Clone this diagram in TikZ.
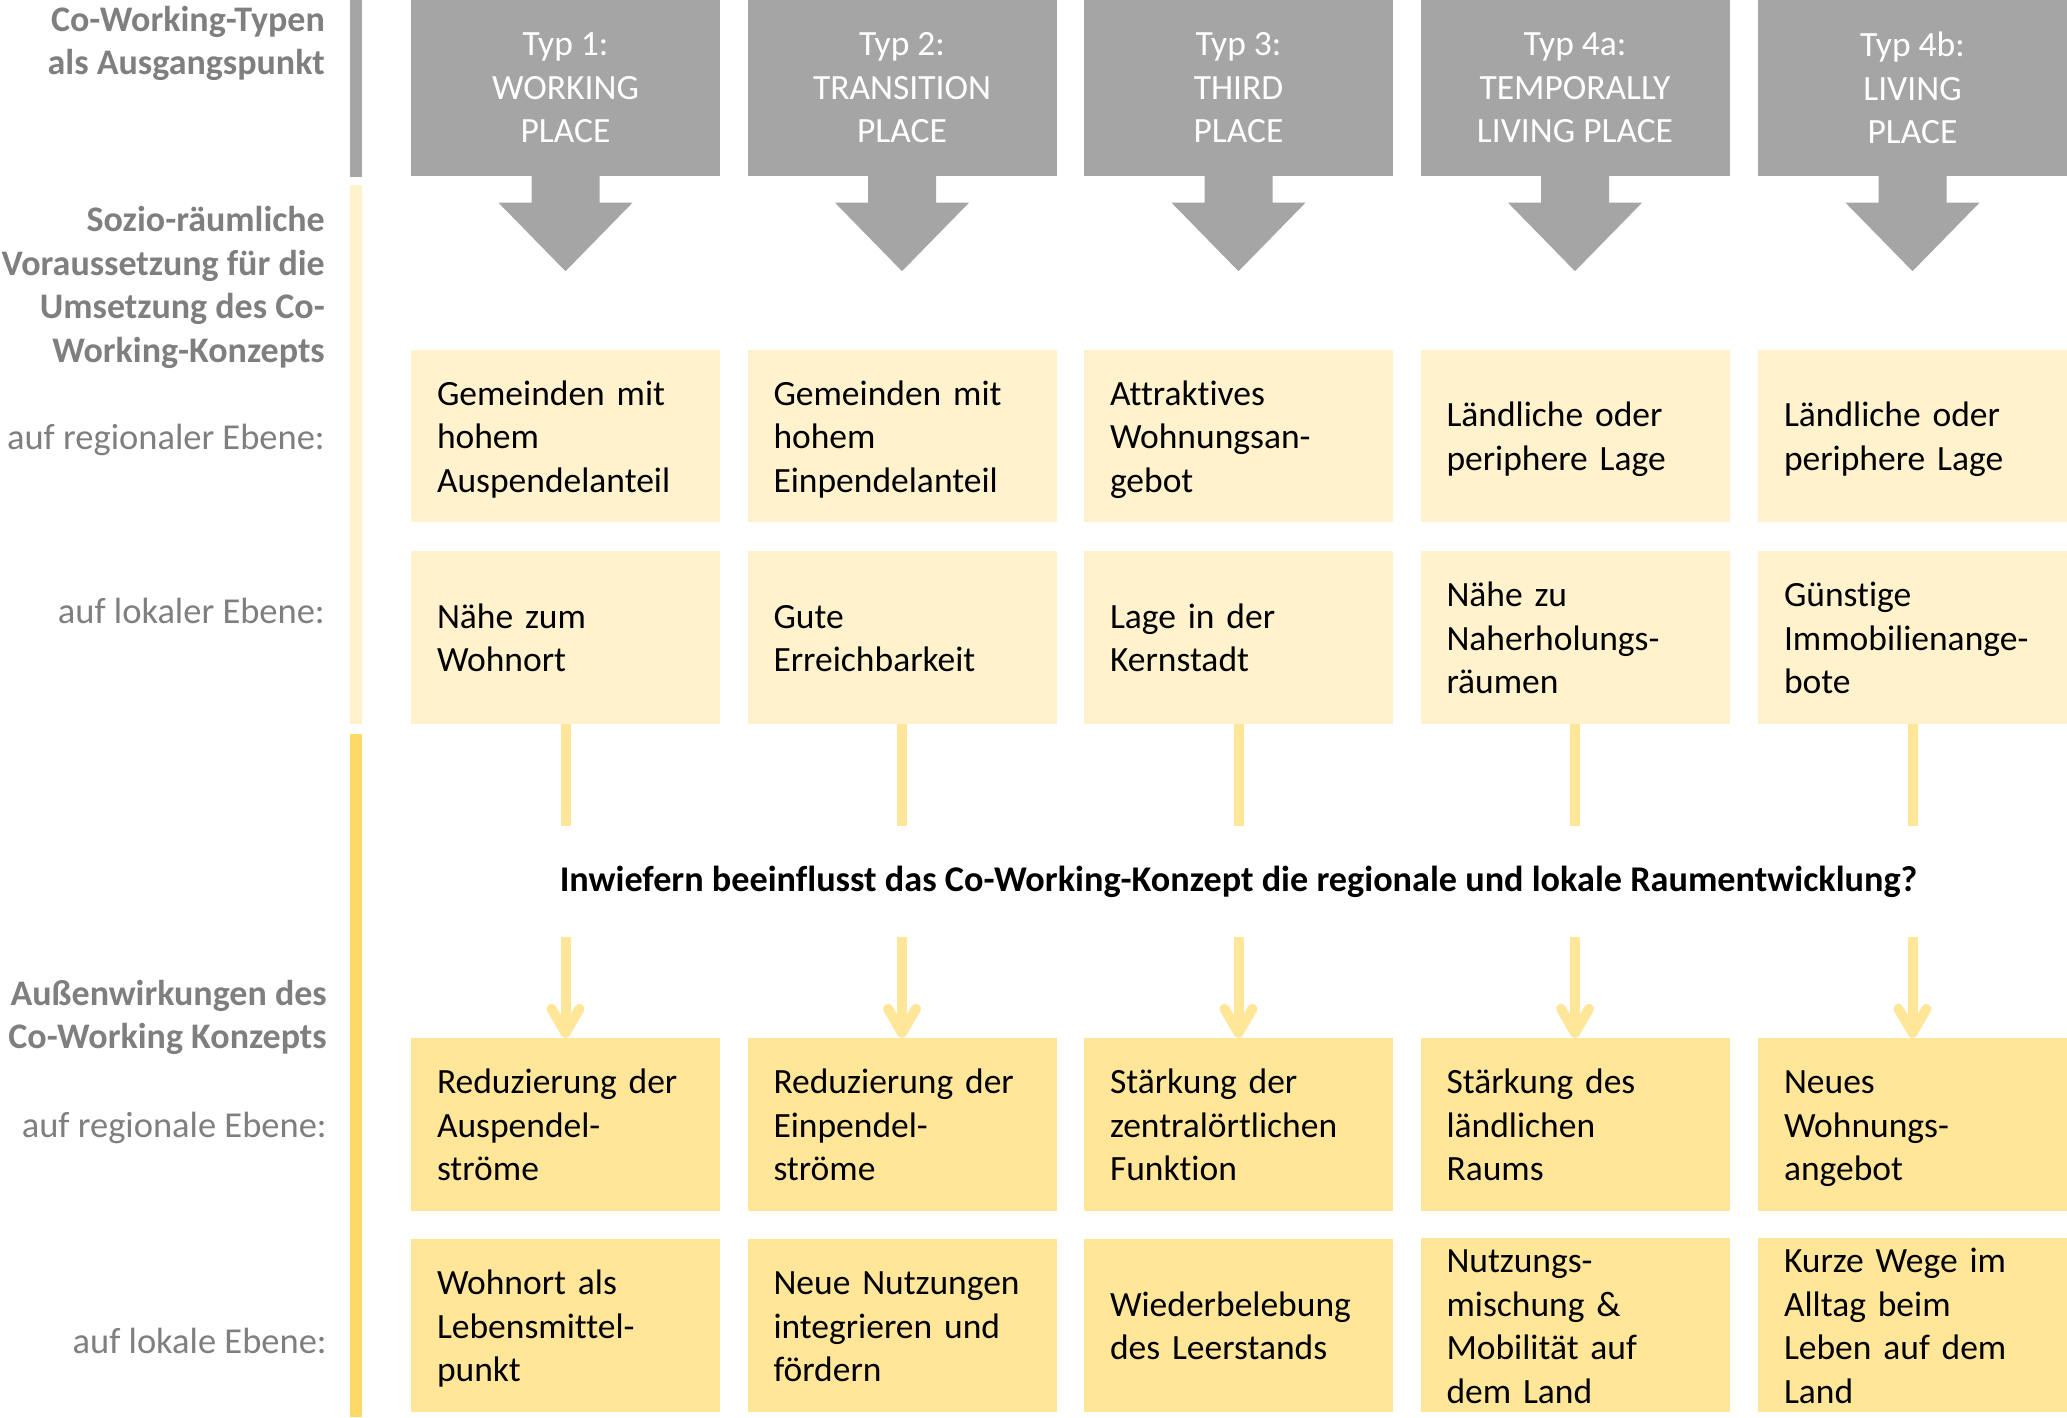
\documentclass[tikz,border=0pt]{standalone}
\usepackage{fontspec}
\setmainfont{Carlito}[Ligatures={NoCommon}]
\usepackage{tikz}
\usetikzlibrary{arrows.meta}
\definecolor{typgrey}{HTML}{A5A5A5}
\definecolor{cream}{HTML}{FFF2CC}
\definecolor{gold}{HTML}{FFE699}
\definecolor{darkgold}{HTML}{FFD966}
\definecolor{labelgrey}{HTML}{7F7F7F}

\begin{document}
\begin{tikzpicture}[x=1pt, y=-1pt,
      typ/.style={fill=typgrey, text=white, minimum width=309pt, minimum height=176pt, inner sep=0pt, align=center, font=\fontsize{35.5}{43.5}\selectfont, execute at begin node={\rule{0pt}{43.5pt}}, execute at end node={\rule{0pt}{43.5pt}}},
      typarrow/.style={fill=typgrey},
      vor/.style={fill=cream, text width=257pt, inner xsep=26pt, inner ysep=0pt, minimum height=172.5pt, align=left, font=\fontsize{35.5}{43.5}\selectfont, execute at begin node={\rule[-9pt]{0pt}{43.5pt}}, execute at end node={\rule[-9pt]{0pt}{43.5pt}}},
      aus/.style={vor, fill=gold},
      headlabel/.style={anchor=east, inner sep=0pt, align=right, text=labelgrey, font=\bfseries\fontsize{36}{43.5}\selectfont, execute at begin node=\strut, execute at end node=\strut},
      levellabel/.style={anchor=east, inner sep=0pt, align=right, text=labelgrey, font=\fontsize{36.5}{43.5}\selectfont, execute at begin node=\strut, execute at end node=\strut},
      stub/.style={draw=gold, line width=10pt},
      wirk/.style={stub, -{Straight Barb[round, length=24pt, width=28pt]}}
    ]
    \useasboundingbox (0,0) rectangle (2067,1417);

    \fill[typgrey] (350,0) rectangle (362,177);
    \fill[cream] (350,185) rectangle (362,724);
    \fill[darkgold] (350,734) rectangle (362,1417);

    \node[headlabel] (ltyp) at (325,47) {Co-Working-Typen\\als Ausgangspunkt};
    \node[headlabel] (lvor) at (325,291) {Sozio-räumliche\\Voraussetzung für die\\Umsetzung des Co-\\Working-Konzepts};
    \node[levellabel] (lvreg) at (325,441) {auf regionaler Ebene:};
    \node[levellabel] (lvlok) at (325,615) {auf lokaler Ebene:};
    \node[headlabel] (laus) at (327,1021) {Außenwirkungen des\\Co-Working Konzepts};
    \node[levellabel] (lareg) at (327,1129) {auf regionale Ebene:};
    \node[levellabel] (lalok) at (327,1345) {auf lokale Ebene:};

    \node[typ] (typ1) at (565.5,88) {Typ 1:\\WORKING\\PLACE};
    \node[typ] (typ2) at (902,88) {Typ 2:\\TRANSITION\\PLACE};
    \node[typ] (typ3) at (1238.5,88) {Typ 3:\\THIRD\\PLACE};
    \node[typ] (typ4) at (1575,88) {Typ 4a:\\TEMPORALLY\\LIVING PLACE};
    \node[typ] (typ5) at (1912.5,88) {Typ 4b:\\LIVING\\PLACE};

    \fill[typarrow, shift={(typ1.south)}] (-34,0) -- (-34,26.5) -- (-67,26.5) -- (0,95) -- (67,26.5) -- (34,26.5) -- (34,0) -- cycle;
    \fill[typarrow, shift={(typ2.south)}] (-34,0) -- (-34,26.5) -- (-67,26.5) -- (0,95) -- (67,26.5) -- (34,26.5) -- (34,0) -- cycle;
    \fill[typarrow, shift={(typ3.south)}] (-34,0) -- (-34,26.5) -- (-67,26.5) -- (0,95) -- (67,26.5) -- (34,26.5) -- (34,0) -- cycle;
    \fill[typarrow, shift={(typ4.south)}] (-34,0) -- (-34,26.5) -- (-67,26.5) -- (0,95) -- (67,26.5) -- (34,26.5) -- (34,0) -- cycle;
    \fill[typarrow, shift={(typ5.south)}] (-34,0) -- (-34,26.5) -- (-67,26.5) -- (0,95) -- (67,26.5) -- (34,26.5) -- (34,0) -- cycle;

    \node[vor] (vreg1) at (565.5,435.75) {Gemeinden mit\\hohem\\Auspendelanteil};
    \node[vor] (vreg2) at (902,435.75) {Gemeinden mit\\hohem\\Einpendelanteil};
    \node[vor] (vreg3) at (1238.5,435.75) {Attraktives\\Wohnungsan-\\gebot};
    \node[vor] (vreg4) at (1575,435.75) {Ländliche oder\\periphere Lage};
    \node[vor] (vreg5) at (1912.5,435.75) {Ländliche oder\\periphere Lage};

    \node[vor] (vlok1) at (565.5,637.25) {Nähe zum\\Wohnort};
    \node[vor] (vlok2) at (902,637.25) {Gute\\Erreichbarkeit};
    \node[vor] (vlok3) at (1238.5,637.25) {Lage in der\\Kernstadt};
    \node[vor] (vlok4) at (1575,637.25) {Nähe zu\\Naherholungs-\\räumen};
    \node[vor] (vlok5) at (1912.5,637.25) {Günstige\\Immobilienange-\\bote};

    \node[minimum height=111pt, inner sep=0pt, font=\bfseries\fontsize{36.2}{43.5}\selectfont] (frage) at (1238.5,881.5) {Inwiefern beeinflusst das Co-Working-Konzept die regionale und lokale Raumentwicklung?};

    \node[aus] (areg1) at (565.5,1124.25) {Reduzierung der\\Auspendel-\\ströme};
    \node[aus] (areg2) at (902,1124.25) {Reduzierung der\\Einpendel-\\ströme};
    \node[aus] (areg3) at (1238.5,1124.25) {Stärkung der\\zentralörtlichen\\Funktion};
    \node[aus] (areg4) at (1575,1124.25) {Stärkung des\\ländlichen\\Raums};
    \node[aus] (areg5) at (1912.5,1124.25) {Neues\\Wohnungs-\\angebot};

    \node[aus] (alok1) at (565.5,1325.25) {Wohnort als\\Lebensmittel-\\punkt};
    \node[aus] (alok2) at (902,1325.25) {Neue Nutzungen\\integrieren und\\fördern};
    \node[aus] (alok3) at (1238.5,1325.25) {Wiederbelebung\\des Leerstands};
    \node[aus] (alok4) at (1575,1325.25) {Nutzungs-\\mischung \&\\Mobilität auf\\dem Land};
    \node[aus] (alok5) at (1912.5,1325.25) {Kurze Wege im\\Alltag beim\\Leben auf dem\\Land};

    \draw[stub] (vlok1.south) -- (vlok1.south |- frage.north);
    \draw[stub] (vlok2.south) -- (vlok2.south |- frage.north);
    \draw[stub] (vlok3.south) -- (vlok3.south |- frage.north);
    \draw[stub] (vlok4.south) -- (vlok4.south |- frage.north);
    \draw[stub] (vlok5.south) -- (vlok5.south |- frage.north);

    \draw[wirk] (areg1.north |- frage.south) -- (areg1.north);
    \draw[wirk] (areg2.north |- frage.south) -- (areg2.north);
    \draw[wirk] (areg3.north |- frage.south) -- (areg3.north);
    \draw[wirk] (areg4.north |- frage.south) -- (areg4.north);
    \draw[wirk] (areg5.north |- frage.south) -- (areg5.north);
  \end{tikzpicture}
\end{document}
